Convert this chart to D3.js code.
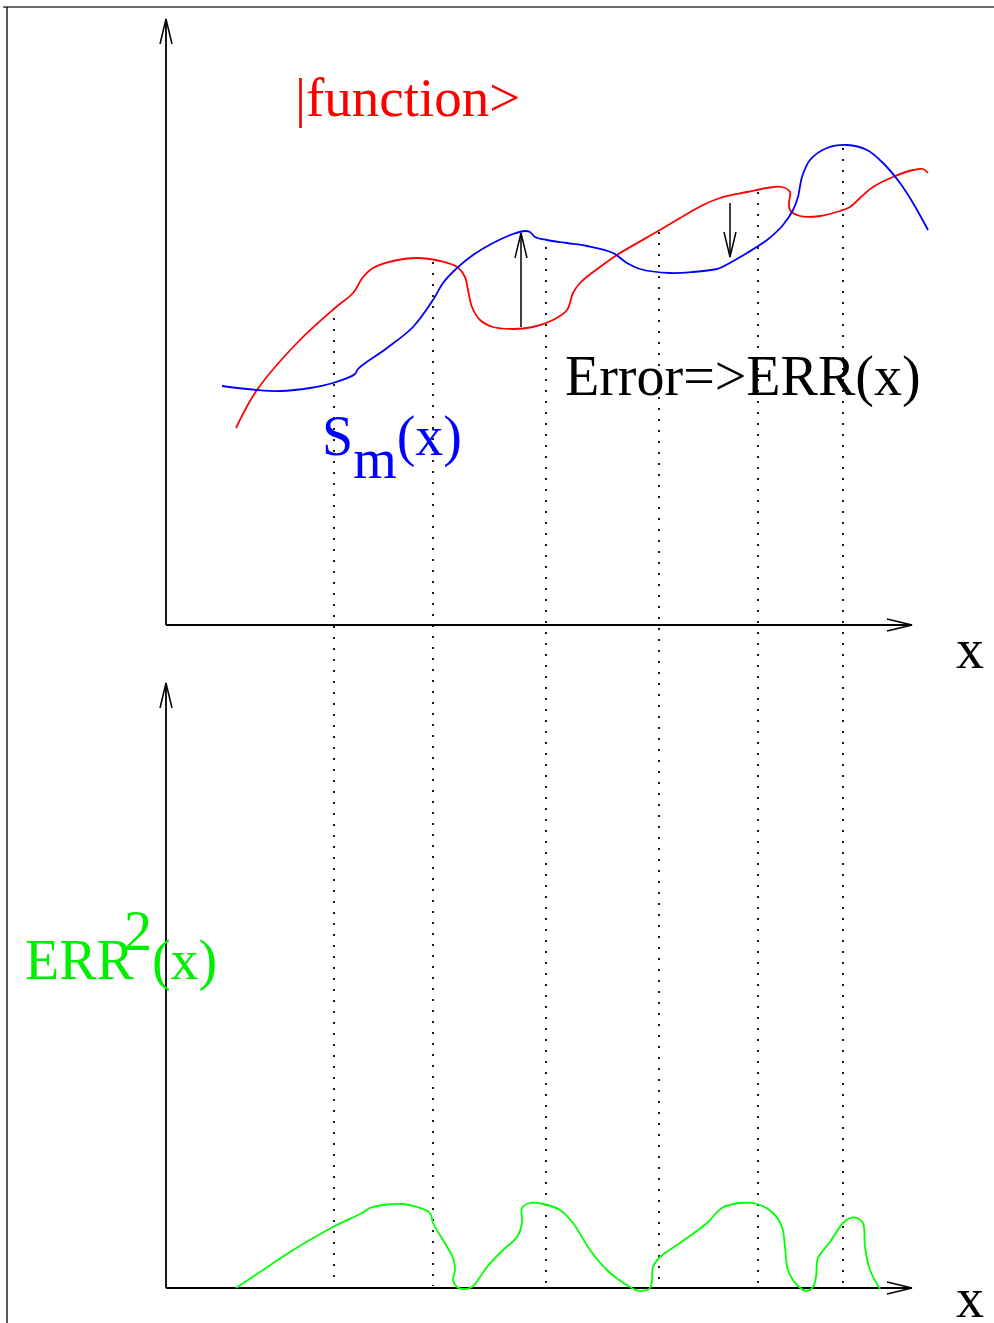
<!DOCTYPE html>
<html>
<head>
<meta charset="utf-8">
<script src="https://cdn.jsdelivr.net/npm/d3@7"></script>
<style>
  body { margin: 0; background: #fff; }
  text { font-family: "Liberation Serif", "Times New Roman", serif; }
</style>
</head>
<body>
<div id="scene"></div>
<script>
// points, in units of the axes (origin at each panel's axis corner)
const functionPts = [
  [70,197],[91,235],[131,282],[169,317],[187,332],[197,348],[207,357],[227,364],
  [251,367],[274,364],[291,358],[299,348],[302,335],[306,318],[314,305],[327,298],
  [347,296],[367,298],[387,305],[401,315],[407,332],[414,342],[434,358],[451,370],
  [494,395],[537,420],[554,427],[581,433],[601,437],[616,438],[624,433],[623,423],
  [624,415],[634,409],[654,409],[674,414],[684,418],[694,427],[707,438],[727,448],
  [747,455],[757,456],[762,452]
];

const approxPts = [
  [56,239],[91,235],[114,234],[144,237],[167,242],[189,251],[192,256],[221,277],
  [247,298],[267,325],[277,342],[291,357],[307,370],[327,382],[347,391],[359,394],
  [364,393],[369,388],[381,385],[401,382],[421,379],[447,372],[461,362],[474,356],
  [504,352],[527,353],[551,356],[554,357],[581,372],[601,385],[617,400],[627,415],
  [632,428],[636,448],[644,465],[661,477],[681,480],[701,475],[717,462],[734,442],
  [747,422],[762,395]
];

const errSqPts = [
  [70,0],[94,16],[124,36],[167,61],[196,75],[204,80],[217,83],[237,84],[251,81],
  [264,75],[267,65],[277,48],[287,30],[289,18],[287,8],[291,1],[297,-1],[306,1],
  [314,11],[321,21],[337,38],[351,51],[356,65],[356,80],[364,85],[377,84],[394,78],
  [407,65],[424,38],[441,18],[464,1],[474,-3],[484,0],[486,8],[487,21],[494,31],
  [514,45],[541,65],[556,80],[574,85],[591,84],[607,75],[616,61],[619,41],[622,18],
  [631,3],[641,-3],[647,1],[650,11],[652,30],[664,46],[677,65],[684,70],[691,70],
  [697,65],[699,41],[704,18],[714,-1]
];

// dotted sample positions and where they start in the top panel
const sampleX = [168, 267, 380, 493, 592, 677];
const sampleTop = [307, 363, 378, 393, 433, 477];

// error arrows: [x, from, to]
const errorArrows = [[355, 298, 392], [564, 422, 368]];

const labels = {
  func: "|function>",
  error: "Error=>ERR(x)",
  axis: "x"
};

const svg = d3.select("#scene").append("svg")
  .attr("width", 994)
  .attr("height", 1323);

const x = d3.scaleLinear().domain([0, 746]).range([166, 912]);
const yTop = d3.scaleLinear().domain([0, 606]).range([625, 19]);
const yBot = d3.scaleLinear().domain([0, 605]).range([1288, 683]);

// page frame
svg.append("line")
  .attr("x1", 3).attr("x2", 994).attr("y1", 7).attr("y2", 7)
  .style("stroke", "#6a6a6a").style("stroke-width", 2.2);
svg.append("line")
  .attr("x1", 7).attr("x2", 7).attr("y1", 7).attr("y2", 1323)
  .style("stroke", "#000").style("stroke-width", 1.3);

// dotted verticals
svg.selectAll("line.sample")
  .data(sampleX)
  .enter().append("line")
  .attr("class", "sample")
  .attr("x1", d => x(d)).attr("x2", d => x(d))
  .attr("y1", (d, i) => yTop(sampleTop[i]))
  .attr("y2", yBot(2))
  .style("stroke", "#000")
  .style("stroke-width", 1.8)
  .style("stroke-dasharray", "2,9");

function arrowHead(g, tx, ty, dx, dy) {
  // open V head, length 25, half width 6
  const len = Math.hypot(dx, dy), ux = dx / len, uy = dy / len;
  const bx = tx - ux * 25, by = ty - uy * 25;
  g.append("path")
    .attr("d", `M${bx - uy * 6},${by + ux * 6}L${tx},${ty}L${bx + uy * 6},${by - ux * 6}`)
    .style("fill", "none").style("stroke", "#000").style("stroke-width", 1.5);
}

function drawAxes(yScale, labelDy) {
  const g = svg.append("g");
  g.append("line")
    .attr("x1", x(0)).attr("x2", x(0))
    .attr("y1", yScale(0)).attr("y2", yScale.range()[1])
    .style("stroke", "#000").style("stroke-width", 1.8);
  g.append("line")
    .attr("x1", x(0)).attr("x2", x(746))
    .attr("y1", yScale(0)).attr("y2", yScale(0))
    .style("stroke", "#000").style("stroke-width", 1.8);
  arrowHead(g, x(0), yScale.range()[1], 0, -1);
  arrowHead(g, x(746), yScale(0), 1, 0);
  g.append("text")
    .attr("x", 970).attr("y", yScale(0) + labelDy)
    .style("text-anchor", "middle")
    .style("font-size", "56px")
    .text(labels.axis);
}

drawAxes(yTop, 43);
drawAxes(yBot, 29);

const lineTop = d3.line()
  .x(d => x(d[0]))
  .y(d => yTop(d[1]))
  .curve(d3.curveCatmullRom.alpha(0.5));

const lineBot = d3.line()
  .x(d => x(d[0]))
  .y(d => yBot(d[1]))
  .curve(d3.curveCatmullRom.alpha(0.5));

svg.append("path")
  .data([functionPts])
  .attr("d", lineTop)
  .style("fill", "none").style("stroke", "#ff0000").style("stroke-width", 1.8);

svg.append("path")
  .data([approxPts])
  .attr("d", lineTop)
  .style("fill", "none").style("stroke", "#0000ff").style("stroke-width", 1.8);

svg.append("path")
  .data([errSqPts])
  .attr("d", lineBot)
  .style("fill", "none").style("stroke", "#00ff00").style("stroke-width", 1.8);

// error arrows
errorArrows.forEach(a => {
  const g = svg.append("g");
  g.append("line")
    .attr("x1", x(a[0])).attr("x2", x(a[0]))
    .attr("y1", yTop(a[1])).attr("y2", yTop(a[2]))
    .style("stroke", "#000").style("stroke-width", 1.5);
  arrowHead(g, x(a[0]), yTop(a[2]), 0, a[2] > a[1] ? -1 : 1);
});

// labels
svg.append("text")
  .attr("x", 295).attr("y", 116)
  .style("font-size", "55px")
  .style("fill", "#ff0000")
  .text(labels.func);

svg.append("text")
  .attr("x", 565).attr("y", 395)
  .style("font-size", "56px")
  .style("fill", "#000")
  .text(labels.error);

const sm = svg.append("text")
  .attr("x", 322).attr("y", 455)
  .style("font-size", "56px")
  .style("fill", "#0000ff");
sm.append("tspan").text("S");
sm.append("tspan").attr("dy", 23).text("m");
sm.append("tspan").attr("dy", -23).text("(x)");

const err2 = svg.append("text")
  .attr("x", 25).attr("y", 979)
  .style("font-size", "56px")
  .style("fill", "#00ee00");
err2.append("tspan").text("ERR");
err2.append("tspan").attr("dx", -10).attr("dy", -29).text("2");
err2.append("tspan").attr("dy", 29).text("(x)");
</script>
</body>
</html>
